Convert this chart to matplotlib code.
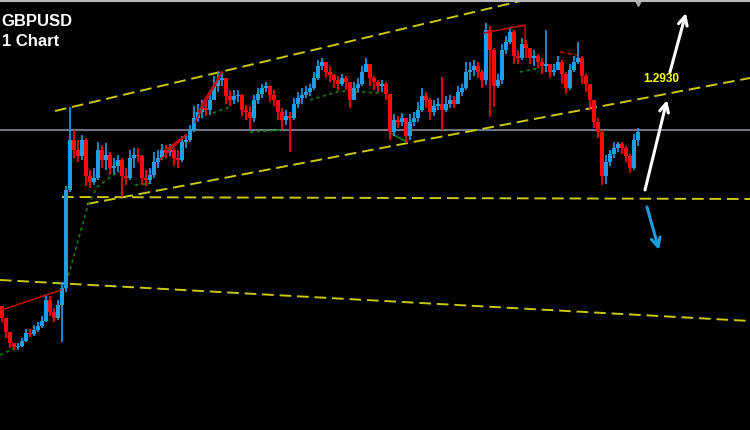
import numpy as np
import matplotlib
matplotlib.use("Agg")
import matplotlib.pyplot as plt
from matplotlib.lines import Line2D

# GBPUSD H1 candles, prices in points (price * 10000)
first_open = 12714
closes = [12702, 12688, 12677, 12673, 12674, 12679, 12687, 12686, 12690, 12694,
          12699, 12720, 12708, 12702, 12715, 12732, 12830, 12880, 12870, 12864,
          12880, 12844, 12838, 12842, 12870, 12860, 12865, 12852, 12854, 12860,
          12844, 12842, 12862, 12865, 12864, 12842, 12840, 12845, 12858, 12862,
          12870, 12868, 12870, 12862, 12860, 12878, 12880, 12890, 12902, 12908,
          12912, 12910, 12920, 12934, 12940, 12942, 12924, 12920, 12924, 12925,
          12910, 12908, 12902, 12920, 12926, 12932, 12934, 12925, 12920, 12908,
          12900, 12904, 12902, 12916, 12922, 12925, 12928, 12932, 12942, 12954,
          12958, 12948, 12945, 12940, 12936, 12942, 12938, 12920, 12932, 12936,
          12948, 12956, 12942, 12938, 12934, 12936, 12926, 12888, 12900, 12898,
          12902, 12884, 12898, 12902, 12910, 12924, 12920, 12908, 12914, 12916,
          12910, 12916, 12920, 12916, 12928, 12932, 12948, 12950, 12954, 12948,
          12940, 12990, 12970, 12934, 12940, 12970, 12978, 12988, 12964, 12962,
          12976, 12972, 12962, 12964, 12958, 12954, 12956, 12948, 12950, 12958,
          12946, 12932, 12950, 12958, 12962, 12944, 12936, 12920, 12898, 12888,
          12844, 12858, 12866, 12872, 12876, 12872, 12864, 12852, 12880, 12888]
highs = [12712, 12698, 12687, 12677, 12677, 12682, 12691, 12691, 12695, 12698,
         12704, 12726, 12724, 12712, 12720, 12738, 12834, 12913, 12890, 12880,
         12885, 12882, 12850, 12852, 12878, 12875, 12877, 12868, 12862, 12865,
         12862, 12852, 12870, 12872, 12872, 12865, 12850, 12852, 12868, 12870,
         12876, 12875, 12876, 12872, 12870, 12884, 12886, 12895, 12914, 12916,
         12920, 12918, 12928, 12944, 12948, 12948, 12942, 12930, 12930, 12930,
         12926, 12915, 12914, 12925, 12932, 12936, 12938, 12935, 12930, 12920,
         12912, 12910, 12908, 12922, 12928, 12932, 12934, 12936, 12948, 12960,
         12962, 12958, 12954, 12946, 12944, 12946, 12944, 12936, 12938, 12942,
         12954, 12962, 12954, 12944, 12940, 12940, 12938, 12920, 12906, 12904,
         12907, 12902, 12906, 12908, 12918, 12932, 12928, 12922, 12920, 12922,
         12943, 12924, 12925, 12924, 12934, 12936, 12958, 12958, 12960, 12958,
         12950, 12997, 12994, 12972, 12946, 12976, 12984, 12992, 12990, 12970,
         12982, 12980, 12972, 12970, 12966, 12962, 12990, 12956, 12956, 12964,
         12960, 12948, 12956, 12964, 12978, 12964, 12946, 12936, 12920, 12902,
         12890, 12865, 12870, 12878, 12878, 12878, 12874, 12866, 12886, 12892]
lows = [12698, 12682, 12672, 12670, 12670, 12673, 12678, 12683, 12684, 12688,
        12692, 12698, 12704, 12698, 12700, 12678, 12728, 12828, 12862, 12858,
        12860, 12834, 12832, 12835, 12840, 12852, 12850, 12845, 12846, 12848,
        12823, 12835, 12840, 12852, 12858, 12835, 12834, 12836, 12842, 12852,
        12860, 12862, 12864, 12854, 12852, 12858, 12872, 12878, 12888, 12898,
        12902, 12904, 12905, 12920, 12928, 12934, 12916, 12914, 12916, 12918,
        12904, 12900, 12890, 12898, 12916, 12922, 12928, 12918, 12914, 12900,
        12890, 12895, 12868, 12900, 12912, 12916, 12922, 12924, 12930, 12940,
        12950, 12942, 12938, 12932, 12930, 12934, 12930, 12912, 12920, 12928,
        12934, 12948, 12934, 12930, 12928, 12928, 12920, 12880, 12884, 12892,
        12894, 12877, 12880, 12894, 12898, 12908, 12912, 12900, 12904, 12910,
        12890, 12908, 12912, 12912, 12920, 12924, 12930, 12940, 12944, 12942,
        12932, 12935, 12903, 12913, 12932, 12936, 12966, 12976, 12956, 12956,
        12960, 12962, 12956, 12954, 12952, 12946, 12948, 12942, 12944, 12950,
        12936, 12926, 12930, 12948, 12956, 12936, 12928, 12910, 12892, 12882,
        12835, 12836, 12854, 12862, 12868, 12866, 12858, 12847, 12850, 12874]

# drawn objects: (bar index, price points)
upper_channel = [(13.25, 12909), (130.75, 13020)]
lower_channel = [(21.25, 12816), (187, 12942)]
support_line = [(15, 12823), (187, 12821)]
long_line = [(-0.5, 12740), (187, 12699)]
gray_level = 12890
red_lines = [
    [(0, 12710), (14.75, 12730)],
    [(48.25, 12898), (55, 12948)],
    [(49, 12908), (55, 12948)],
    [(50, 12916), (55, 12948)],
    [(39.5, 12860), (46, 12885)],
    [(40.75, 12868), (46, 12885)],
    [(41.5, 12872), (46, 12885)],
    [(120.5, 12987), (130.75, 12995), (130.75, 12975)],
]
red_dashed = [(139.5, 12968), (143.75, 12965)]
green_dotted = [
    [(-0.5, 12665), (3.25, 12672)],
    [(15.25, 12725), (21.5, 12815), (23.75, 12833), (27.75, 12845), (30.75, 12850)],
    [(33.25, 12835), (37.75, 12837)],
    [(52.75, 12907), (57, 12913)],
    [(62, 12888), (70.25, 12890)],
    [(77, 12920), (84.5, 12929), (94.5, 12927)],
    [(129.5, 12948), (134.5, 12952)],
]
green_solid = [(97, 12887), (101.25, 12878)]
arrows_up = [((160.75, 12830), (166.25, 12920)), ((167, 12948), (171, 13007))]
arrow_down = ((161.25, 12813), (164.25, 12770))
level_label = "1.2930"
level_pos = (164.75, 12941)

P = 1e4
closes = np.array(closes) / P
highs = np.array(highs) / P
lows = np.array(lows) / P
opens = np.r_[first_open / P, closes[:-1]]
idx = np.arange(len(closes))

bull = "#1f9ee6"
bear = "#ff0a0a"

fig = plt.figure(figsize=(7.5, 4.3), dpi=100, facecolor="black")
ax = fig.add_axes([0, 0, 1, 1])
ax.set_facecolor("black")
for s in ax.spines.values():
    s.set_visible(False)
ax.set_xticks([])
ax.set_yticks([])
ax.set_xlim(-0.5, 187)
ax.set_ylim(12590 / P, 13020 / P)

ax.axhline(gray_level / P, color="#7f8fa0", lw=1.2, zorder=1)

def pts(seq):
    a = np.array(seq, dtype=float)
    return a[:, 0], a[:, 1] / P

yellow = "#c9c910"
for line in [upper_channel, lower_channel, support_line, long_line]:
    x, y = pts(line)
    ax.plot(x, y, color=yellow, lw=1.4, dashes=(6, 3), zorder=2)

for line in green_dotted:
    x, y = pts(line)
    ax.plot(x, y, color="#137a13", lw=1.2, dashes=(2, 2), zorder=2)
x, y = pts(green_solid)
ax.plot(x, y, color="#137a13", lw=1.2, zorder=2)

# candles
up = closes >= opens
cols = np.where(up, bull, bear)
ax.vlines(idx, np.minimum(lows, np.minimum(opens, closes)),
          np.maximum(highs, np.maximum(opens, closes)), colors=cols, lw=1.2, zorder=3)
body_lo = np.minimum(opens, closes)
body_h = np.maximum(np.abs(closes - opens), 0.00008)
ax.bar(idx, body_h, bottom=body_lo, width=0.8, color=cols, linewidth=0, zorder=4)

for line in red_lines:
    x, y = pts(line)
    ax.plot(x, y, color="#d00000", lw=1.1, zorder=5)
x, y = pts(red_dashed)
ax.plot(x, y, color="#d00000", lw=1.1, dashes=(3, 2), zorder=5)

for tail, head in arrows_up:
    ax.annotate("", xy=(head[0], head[1] / P), xytext=(tail[0], tail[1] / P),
                arrowprops=dict(arrowstyle="->", color="white", lw=2.2,
                                mutation_scale=16, shrinkA=0, shrinkB=0), zorder=6)
tail, head = arrow_down
ax.annotate("", xy=(head[0], head[1] / P), xytext=(tail[0], tail[1] / P),
            arrowprops=dict(arrowstyle="->", color="#1a9be0", lw=2.2,
                            mutation_scale=16, shrinkA=0, shrinkB=0), zorder=6)

ax.text(level_pos[0], level_pos[1] / P, level_label, color="#ffff00",
        fontsize=8.5, fontweight="bold", family="Liberation Sans",
        ha="center", va="center", zorder=7)

# window border and shift marker
fig.add_artist(Line2D([0, 1], [0.998, 0.998], color="#b8b8b8", lw=1.5,
                      transform=fig.transFigure))
ax.plot([159], [13018 / P], marker="v", color="#a8a8a8", ms=6, clip_on=False, zorder=8)

fig.text(1 / 750, 1 - 26 / 430, "GBPUSD", color="white", fontsize=12,
         fontweight="bold", family="Liberation Sans", ha="left", va="baseline")
fig.text(2 / 750, 1 - 46 / 430, "1 Chart", color="white", fontsize=12,
         fontweight="bold", family="Liberation Sans", ha="left", va="baseline")

fig.savefig("out.png", dpi=100, facecolor="black")
